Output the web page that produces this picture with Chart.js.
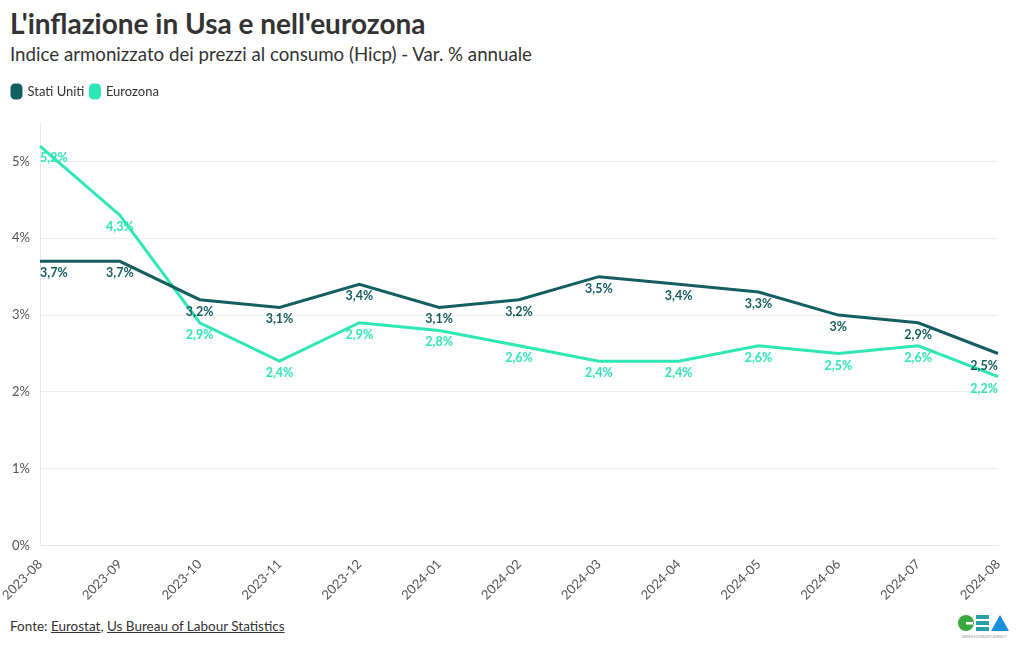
<!DOCTYPE html>
<html lang="it">
<head>
<meta charset="utf-8">
<title>L'inflazione in Usa e nell'eurozona</title>
<script src="https://cdn.jsdelivr.net/npm/chart.js@4.4.1/dist/chart.umd.min.js"></script>
<style>
  body { margin: 0; background: #fff; font-family: Lato, "Noto Sans", sans-serif; color: #333; }
  .wrap { position: relative; width: 1020px; height: 650px; overflow: hidden; }
  h1 { position: absolute; left: 10px; top: 6px; margin: 0; font-size: 28px; font-weight: 700; color: #333; }
  h2 { position: absolute; left: 10px; top: 43px; margin: 0; font-size: 18.7px; font-weight: 400; color: #333; }
  .chart-box { position: absolute; left: 0; top: 79px; width: 1020px; height: 535px; }
  .source { position: absolute; left: 10px; top: 618px; font-size: 13.5px; color: #333; }
  .source a { color: #333; text-decoration: underline; }
  .logo { position: absolute; left: 957px; top: 614px; }
</style>
</head>
<body>
<div class="wrap">
  <h1>L'inflazione in Usa e nell'eurozona</h1>
  <h2>Indice armonizzato dei prezzi al consumo (Hicp) - Var. % annuale</h2>
  <div class="chart-box"><canvas id="graphic-inflation"></canvas></div>
  <div class="source">Fonte: <a>Eurostat</a>, <a>Us Bureau of Labour Statistics</a></div>
  <svg class="logo" width="54" height="26" viewBox="0 0 54 26">
    <circle cx="9" cy="9" r="8" fill="#3aa83f"/>
    <rect x="9" y="8" width="7" height="2.5" fill="#fff"/>
    <rect x="19" y="1" width="13" height="4" fill="#2aa0a6"/>
    <rect x="19" y="7" width="13" height="4" fill="#2aa0a6"/>
    <rect x="19" y="13" width="13" height="4" fill="#2aa0a6"/>
    <polygon points="34,17 43,1 52,17" fill="#1b8fd8"/>
    <text x="27" y="24" font-size="3.5" fill="#999" text-anchor="middle" font-family="Lato">GREEN ECONOMY AGENCY</text>
  </svg>
</div>
<script>
const graphicInflation = document.querySelector("#graphic-inflation");

// Dati
const months = [
	"2023-08", "2023-09", "2023-10", "2023-11", "2023-12", "2024-01", "2024-02",
	"2024-03", "2024-04", "2024-05", "2024-06", "2024-07", "2024-08",
];
const statiUniti = [3.7, 3.7, 3.2, 3.1, 3.4, 3.1, 3.2, 3.5, 3.4, 3.3, 3.0, 2.9, 2.5];
const eurozona = [5.2, 4.3, 2.9, 2.4, 2.9, 2.8, 2.6, 2.4, 2.4, 2.6, 2.5, 2.6, 2.2];
const yTicks = [0, 1, 2, 3, 4, 5];

const colorUsa = "#155e60";
const colorEuro = "#2ee6b6";
const fontFamily = "Lato, 'Noto Sans', sans-serif";

function formatPercent(value) {
	return `${String(value).replace(".", ",")}%`;
}

// etichette sotto ogni punto
const valueLabels = {
	id: "valueLabels",
	afterDatasetsDraw(chart) {
		const { ctx } = chart;
		ctx.save();
		ctx.font = `bold 12.5px ${fontFamily}`;
		ctx.textBaseline = "middle";
		chart.data.datasets.forEach((dataset, i) => {
			const meta = chart.getDatasetMeta(i);
			meta.data.forEach((point, index) => {
				const last = meta.data.length - 1;
				ctx.textAlign = index === 0 ? "left" : (index === last ? "right" : "center");
				ctx.fillStyle = dataset.borderColor;
				ctx.fillText(formatPercent(dataset.data[index]), point.x, point.y + 12);
			});
		});
		ctx.restore();
	},
};

// spazio sotto la legenda
const legendSpace = {
	id: "legendSpace",
	beforeInit(chart) {
		const originalFit = chart.legend.fit;
		chart.legend.fit = function fit() {
			originalFit.bind(chart.legend)();
			this.height += 15;
		};
	},
};

const graphic = new Chart(graphicInflation, {
	type: "line",
	data: {
		labels: months,
		datasets: [
			{
				label: "Stati Uniti",
				data: statiUniti,
				borderColor: colorUsa,
				backgroundColor: colorUsa,
				borderWidth: 3,
				pointRadius: 0,
				tension: 0,
			},
			{
				label: "Eurozona",
				data: eurozona,
				borderColor: colorEuro,
				backgroundColor: colorEuro,
				borderWidth: 3,
				pointRadius: 0,
				tension: 0,
			},
		],
	},
	options: {
		responsive: true,
		maintainAspectRatio: false,
		animation: false,
		layout: { padding: { left: 6, right: 22, top: 0, bottom: 8 } },
		plugins: {
			legend: {
				align: "start",
				labels: {
					boxWidth: 9,
					boxHeight: 13,
					useBorderRadius: true,
					borderRadius: 3,
					padding: 6,
					color: "#333",
					font: { family: fontFamily, size: 13 },
				},
			},
			tooltip: { enabled: false },
		},
		scales: {
			x: {
				offset: false,
				grid: { display: false },
				border: { color: "#e6e6e6" },
				ticks: {
					minRotation: 45,
					maxRotation: 45,
					color: "#555",
					font: { family: fontFamily, size: 13 },
				},
			},
			y: {
				min: 0,
				max: 5.5,
				afterBuildTicks(axis) {
					axis.ticks = yTicks.map((v) => ({ value: v }));
				},
				afterFit(axis) {
					axis.width = 34;
				},
				grid: { color: "#ececec", drawTicks: false },
				border: { color: "#e6e6e6" },
				ticks: {
					padding: 10,
					color: "#555",
					font: { family: fontFamily, size: 13 },
					callback: (value) => `${value}%`,
				},
			},
		},
	},
	plugins: [valueLabels, legendSpace],
});
</script>
</body>
</html>
